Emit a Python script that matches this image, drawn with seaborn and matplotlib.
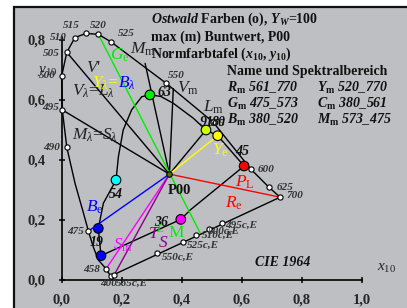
import matplotlib
matplotlib.use("Agg")
import matplotlib.pyplot as plt
import seaborn as sns
from matplotlib.patches import Rectangle

# ---------------- data ----------------
# spectral locus path (x10, y10)
locus_x = [0.163, 0.148, 0.122, 0.105, 0.089, 0.072, 0.045, 0.017, 0.002, 0.000,
           0.017, 0.044, 0.081, 0.122, 0.164, 0.348, 0.505, 0.630, 0.691, 0.728]
locus_y = [0.013, 0.037, 0.067, 0.111, 0.163, 0.225, 0.320, 0.442, 0.567, 0.680,
           0.759, 0.808, 0.822, 0.819, 0.794, 0.656, 0.526, 0.370, 0.309, 0.276]
# labelled wavelength marks on the locus
wl_labels = ["400", "458", "475", "490", "495", "500", "505", "510", "515",
             "520", "525", "550", "575", "600", "625", "700"]
wl_x = [0.163, 0.148, 0.089, 0.017, 0.002, 0.000, 0.017, 0.044, 0.081,
        0.122, 0.164, 0.348, 0.505, 0.630, 0.691, 0.728]
wl_y = [0.013, 0.037, 0.163, 0.442, 0.567, 0.680, 0.759, 0.808, 0.822,
        0.819, 0.794, 0.656, 0.526, 0.370, 0.309, 0.276]
# purple line and compensative wavelengths on it
purple_x = [0.163, 0.728]
purple_y = [0.013, 0.276]
comp_labels = ["565c,E", "550c,E", "525c,E", "510c,E", "500c,E", "495c,E"]
comp_x = [0.175, 0.319, 0.405, 0.447, 0.491, 0.535]
comp_y = [0.017, 0.089, 0.128, 0.150, 0.170, 0.189]
# Ostwald maximum-colour curve
inner_x = [0.131, 0.122, 0.139, 0.181, 0.189, 0.205, 0.233, 0.267, 0.294, 0.330,
           0.372, 0.439, 0.481, 0.520, 0.608, 0.428, 0.397, 0.131]
inner_y = [0.081, 0.172, 0.256, 0.333, 0.411, 0.500, 0.567, 0.611, 0.617, 0.612,
           0.589, 0.539, 0.500, 0.481, 0.380, 0.233, 0.202, 0.081]
# coloured points on the curve
pt_labels = ["19", "Be", "54", "63", "91", "80", "45", "36"]
pt_x = [0.131, 0.122, 0.181, 0.294, 0.481, 0.520, 0.608, 0.397]
pt_y = [0.081, 0.172, 0.333, 0.617, 0.500, 0.481, 0.380, 0.202]
pt_colors = ["#0000ff", "#0000ff", "#00ffff", "#00ee00", "#ccff00", "#ffff00", "#ff0000", "#ff00ff"]
# white point P00
white_x = 0.359
white_y = 0.353
# black lines from P00
black_end_x = [0.017, 0.002, 0.278, 0.372, 0.481]
black_end_y = [0.759, 0.567, 0.722, 0.638, 0.500]
# coloured lines through P00
col_start_x = [0.122, 0.359, 0.359, 0.359, 0.359, 0.359]
col_start_y = [0.819, 0.353, 0.353, 0.353, 0.353, 0.353]
col_end_x = [0.461, 0.520, 0.728, 0.089, 0.148, 0.175]
col_end_y = [0.158, 0.481, 0.276, 0.163, 0.037, 0.017]
col_colors = ["#00ee00", "#ffff00", "#ff0000", "#0000ff", "#ff00ff", "#8b008b"]

x_ticks = [0.0, 0.2, 0.4, 0.6, 0.8, 1.0]
x_tick_labels = ["0,0", "0,2", "0,4", "0,6", "0,8", "1,0"]
y_ticks = [0.0, 0.2, 0.4, 0.6, 0.8]
y_tick_labels = ["0,0", "0,2", "0,4", "0,6", "0,8"]

# ---------------- style ----------------
sns.set_theme(style="white")
plt.rcParams['font.family'] = ['Liberation Serif', 'DejaVu Serif']
plt.rcParams['mathtext.fontset'] = 'custom'
plt.rcParams['mathtext.rm'] = 'Liberation Serif'
plt.rcParams['mathtext.it'] = 'Liberation Serif:italic'
plt.rcParams['mathtext.bf'] = 'Liberation Serif:bold'
try:
    plt.rcParams['mathtext.bfit'] = 'Liberation Serif:bold:italic'
except KeyError:
    pass

W, H = 407, 308
fig = plt.figure(figsize=(W / 100, H / 100), dpi=100)
fig.patch.set_facecolor("white")

# axes box in pixels: left 14, top 7, right/bottom beyond the picture
L, R, TOP, BOT = 14, 412, 7, 312
ax = fig.add_axes([L / W, (H - BOT) / H, (R - L) / W, (BOT - TOP) / H])
ax.set_facecolor("#bebfc3")
X0, Y0, S = 61.7, 280.0, 300.0
ax.set_xlim((L - X0) / S, (R - X0) / S)
ax.set_ylim((Y0 - BOT) / S, (Y0 - TOP) / S)

# axes lines
for side in ["top", "right"]:
    ax.spines[side].set_visible(False)
ax.spines["left"].set_position(("data", 0))
ax.spines["bottom"].set_position(("data", 0))
ax.spines["left"].set_bounds(0, 0.81)
ax.spines["bottom"].set_bounds(0, 1.0)
for side in ["left", "bottom"]:
    ax.spines[side].set_color("black")
    ax.spines[side].set_linewidth(1.2)
ax.set_xticks(x_ticks)
ax.set_xticklabels(x_tick_labels)
ax.set_yticks(y_ticks)
ax.set_yticklabels(y_tick_labels)
ax.tick_params(axis="both", direction="inout", length=5, width=1.1, color="black",
               labelsize=10.5, bottom=True, left=True)
ax.tick_params(axis="x", pad=7)
ax.tick_params(axis="y", pad=9)
for lab in ax.get_xticklabels() + ax.get_yticklabels():
    lab.set_fontweight("bold")
ax.set_xlabel("")
ax.set_ylabel("")

# frame
ax.add_patch(Rectangle((0, 0), 1, 1, transform=ax.transAxes, fill=False,
                       edgecolor="#111111", lw=1.6, clip_on=False, zorder=10))

lw = 1.0
# spectral locus and purple line
sns.lineplot(x=locus_x, y=locus_y, sort=False, estimator=None, color="black", lw=lw, ax=ax)
sns.lineplot(x=purple_x, y=purple_y, sort=False, estimator=None, color="black", lw=lw, ax=ax)
# Ostwald curve
sns.lineplot(x=inner_x, y=inner_y, sort=False, estimator=None, color="black", lw=lw, ax=ax)
# black radial lines
for ex, ey in zip(black_end_x, black_end_y):
    ax.plot([white_x, ex], [white_y, ey], color="black", lw=lw, zorder=2)
# coloured lines
for sx, sy, ex, ey, c in zip(col_start_x, col_start_y, col_end_x, col_end_y, col_colors):
    ax.plot([sx, ex], [sy, ey], color=c, lw=lw, zorder=3)

# markers
sns.scatterplot(x=wl_x, y=wl_y, s=14, color="white", edgecolor="black", linewidth=0.8,
                ax=ax, zorder=5)
sns.scatterplot(x=comp_x, y=comp_y, s=14, color="white", edgecolor="black", linewidth=0.8,
                ax=ax, zorder=5)
sns.scatterplot(x=pt_x, y=pt_y, hue=pt_labels, palette=dict(zip(pt_labels, pt_colors)),
                s=48, edgecolor="black", linewidth=0.8, legend=False, ax=ax, zorder=6)
ax.scatter([white_x], [white_y], s=16, color="#556b00", edgecolor="black", linewidth=0.8, zorder=7)


def T(px, py, s, ha="left", va="center", **kw):
    fig.text(px / W, 1 - py / H, s, ha=ha, va=va, **kw)


# wavelength labels
wlk = dict(fontsize=8, fontstyle="italic", fontweight="bold", color="#333333")
wl_pos = {"400": (100, 284), "458": (83, 269), "475": (67, 232), "490": (43, 147),
          "495": (42, 107), "500": (39, 76), "505": (43, 53), "510": (50, 38),
          "515": (63, 25), "520": (90, 25), "525": (118, 33), "550": (168, 76),
          "575": (209, 123), "600": (258, 169), "625": (277, 187), "700": (287, 196)}
for lab in wl_labels:
    px, py = wl_pos[lab]
    T(px, py, lab, **wlk)
comp_pos = {"565c,E": (116, 283), "550c,E": (162, 257), "525c,E": (187, 245),
            "510c,E": (202, 235), "500c,E": (208, 231), "495c,E": (225, 225)}
for lab in comp_labels:
    px, py = comp_pos[lab]
    T(px, py, lab, **wlk)

# numbers at the colour points
nk = dict(fontsize=10, fontstyle="italic", fontweight="bold", color="#111111")
T(158, 93, "63", **nk)
T(200, 123, "91", **nk)
T(212, 123, "80", **nk)
T(235, 152, "45", **nk)
T(154, 222, "36", **nk)
T(109, 194, "54", **nk)
T(90, 243, "19", **nk)
T(168, 191, "P00", fontsize=10.5, fontweight="bold", color="#111111")

# big labels
bk = dict(fontsize=12.5)
T(110, 55, r"$G_\mathrm{e}$", color="#00ee00", **bk)
T(86, 68, r"$V$'", color="#222222", **bk)
T(72, 91, r"$V_\lambda$=$L_\lambda$", color="#222222", **bk)
T(92, 83, r"$Y_\lambda$=", color="#ffff00", **bk)
T(118, 83, r"$B_\lambda$", color="#0000ff", **bk)
T(72, 135, r"$M_\lambda$=$S_\lambda$", color="#222222", **bk)
T(130, 49, r"$M_\mathrm{m}$", color="#222222", **bk)
T(177, 88, r"$V_\mathrm{m}$", color="#222222", **bk)
T(203, 107, r"$L_\mathrm{m}$", color="#222222", **bk)
T(212, 150, r"$Y_\mathrm{e}$", color="#ffff00", **bk)
T(235, 182, r"$P_\mathrm{L}$", color="#ff0000", **bk)
T(225, 203, r"$R_\mathrm{e}$", color="#ff0000", **bk)
T(86, 207, r"$B_\mathrm{e}$", color="#0000ff", **bk)
T(113, 245, r"$S_\mathrm{m}$", color="#ff00ff", **bk)
T(148, 234, r"$T$", color="#8b008b", **bk)
T(158, 243, r"$S$", color="#8b008b", **bk)
T(156, 229, r"$L$", color="#00ee00", fontsize=9)
T(168, 233, r"M", color="#00ee00", fontsize=12.5)

# axis names
T(37, 71, r"$y_{10}$", fontsize=11, color="#222222")
T(377, 268, r"$x_{10}$", fontsize=11, color="#222222")
T(255, 263, "CIE 1964", fontsize=10, fontstyle="italic", fontweight="bold", color="#111111")

# title block
tk = dict(fontsize=10, fontweight="bold", color="#111111")
T(151, 19, r"$\mathbfit{Ostwald}$ Farben (o), $\mathbfit{Y}_{\mathbfit{W}}$=100", **tk)
T(151, 37, "max (m) Buntwert, P00", **tk)
T(151, 54, r"Normfarbtafel ($\mathbfit{x}_{\mathbf{10}}$, $\mathbfit{y}_{\mathbf{10}}$)", **tk)
T(227, 71, "Name und Spektralbereich", **tk)
rk = dict(fontsize=10, fontweight="bold", fontstyle="italic", color="#111111")
T(227, 88, r"$\mathbfit{R}_\mathbf{m}$ 561_770", **rk)
T(227, 104, r"$\mathbfit{G}_\mathbf{m}$ 475_573", **rk)
T(227, 120, r"$\mathbfit{B}_\mathbf{m}$ 380_520", **rk)
T(317, 88, r"$\mathbfit{Y}_\mathbf{m}$ 520_770", **rk)
T(317, 104, r"$\mathbfit{C}_\mathbf{m}$ 380_561", **rk)
T(317, 120, r"$\mathbfit{M}_\mathbf{m}$ 573_475", **rk)

fig.savefig("out.png", dpi=100, facecolor="white")
